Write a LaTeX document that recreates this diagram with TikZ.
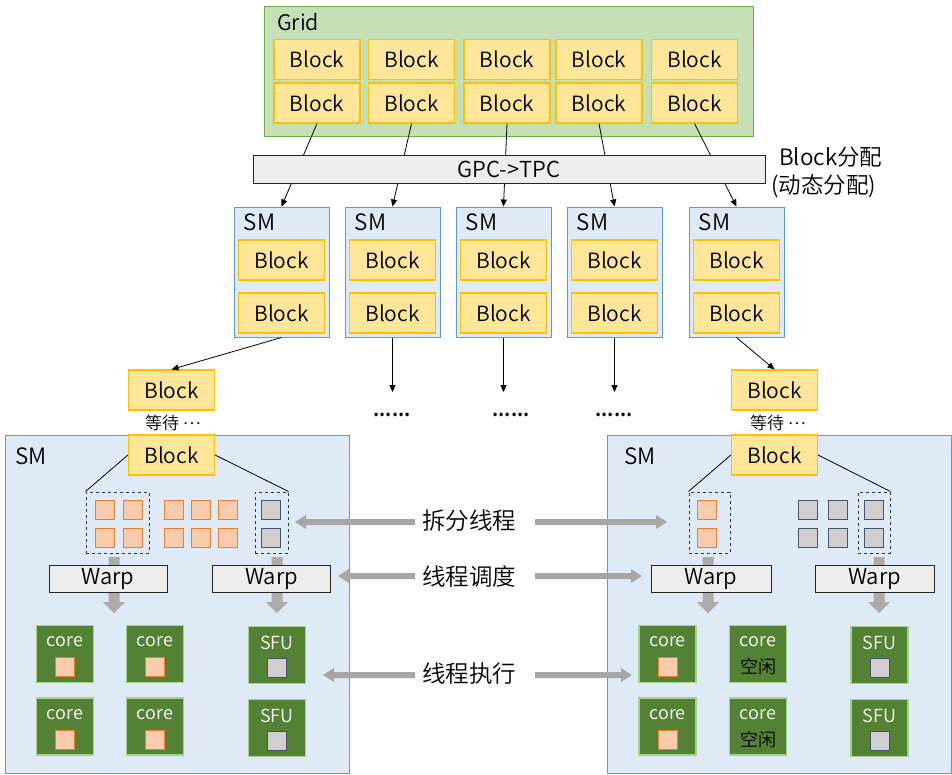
\documentclass[tikz,border=0pt]{standalone}
\usepackage{fontspec}
\setmainfont{Noto Sans CJK SC}[UprightFont={* DemiLight}]
\usetikzlibrary{arrows.meta}
\definecolor{blkfill}{HTML}{FFE699}
\definecolor{blkdraw}{HTML}{FFC000}
\definecolor{gridfill}{HTML}{C5E0B4}
\definecolor{griddraw}{HTML}{70AD47}
\definecolor{smfill}{HTML}{DEEBF7}
\definecolor{smdraw}{HTML}{5B9BD5}
\definecolor{barfill}{HTML}{EDEDED}
\definecolor{orfill}{HTML}{F8CBAD}
\definecolor{ordraw}{HTML}{ED7D31}
\definecolor{gyfill}{HTML}{D0CECE}
\definecolor{gydraw}{HTML}{44546A}
\definecolor{corefill}{HTML}{548235}
\definecolor{coredraw}{HTML}{A9D18E}
\definecolor{dashc}{HTML}{203864}
\definecolor{harr}{HTML}{A6A6A6}
\definecolor{varr}{HTML}{AEAAAA}
\newcommand\myGDown[3]{% x, y1, ytip
  \fill[varr] ({#1-5.5},#2) -- ({#1+5.5},#2) -- ({#1+5.5},{#3-11}) -- ({#1+11},{#3-11}) -- (#1,#3) -- ({#1-11},{#3-11}) -- ({#1-5.5},{#3-11}) -- cycle;}
\newcommand\myGH[4]{% x1, xtip, y, sign (+1 right, -1 left)
  \fill[harr] (#1,{#3-3}) -- ({#2-11*#4},{#3-3}) -- ({#2-11*#4},{#3-7}) -- (#2,#3) -- ({#2-11*#4},{#3+7}) -- ({#2-11*#4},{#3+3}) -- (#1,{#3+3}) -- cycle;}
\tikzset{
  fs/.style={font=\fontsize{#1}{27}\selectfont},
  blk/.style={draw=blkdraw, fill=blkfill, line width=1.2pt, minimum width=86pt, minimum height=40pt, inner sep=0pt, fs=21},
  smbox/.style={draw=smdraw, fill=smfill, line width=1pt, inner sep=0pt},
  lbl/.style={inner sep=0pt, fs=#1},
  lbl/.default=20,
  barbox/.style={draw=black!85, fill=barfill, line width=1pt, inner sep=0pt, fs=22},
  orsq/.style={draw=ordraw, fill=orfill, line width=1pt, minimum size=19pt, inner sep=0pt},
  gysq/.style={draw=gydraw, fill=gyfill, line width=1pt, minimum size=19pt, inner sep=0pt},
  dbox/.style={draw=dashc, dashed, line width=1pt, inner sep=0pt},
  corebox/.style={draw=coredraw, fill=corefill, line width=1.2pt, minimum size=57pt, inner sep=0pt},
  conn/.style={draw=black, line width=0.8pt},
  conna/.style={conn, -{Triangle[length=7pt,width=6pt]}},
}
\begin{document}
\begin{tikzpicture}[x=1pt,y=-1pt]
\useasboundingbox (0,0) rectangle (952,774);
% Grid
\node[draw=griddraw, fill=gridfill, line width=1pt, minimum width=489pt, minimum height=130pt, inner sep=0pt] (grid) at (508.5,71) {};
\node[lbl=21.5, anchor=west] (gridlbl) at (277,22) {Grid};
\foreach \i/\x in {1/317,2/411.5,3/507,4/599,5/694.5}{
  \node[blk] (ga\i) at (\x,59.5) {Block};
  \node[blk] (gb\i) at (\x,103) {Block};
}
% SMs row
\foreach \i/\x in {1/281.5,2/392.5,3/503.5,4/614.5,5/736.5}{
  \node[smbox, minimum width=95pt, minimum height=130pt] (sm\i) at (\x,272) {};
  \node[lbl=22.5, anchor=west] (smlbl\i) at (\x-38,222) {SM};
  \node[blk] (sa\i) at (\x,260) {Block};
  \node[blk] (sb\i) at (\x,313) {Block};
}
\foreach \i in {1,...,5}{ \draw[conna] (gb\i.south) -- (sm\i.north); }
% bar
\node[barbox, minimum width=512pt, minimum height=28pt] (bar) at (509,169) {GPC->TPC};
\node[lbl=22.5, anchor=base west] (alloc1) at (779,165) {Block分配};
\node[lbl=22.5, anchor=base west] (alloc2) at (771,193) {(动态分配)};
% waiting blocks
\node[blk] (wL) at (171.5,390) {Block};
\node[blk] (wR) at (774.5,390) {Block};
\draw[conna] (sm1.south) -- (wL.north);
\draw[conna] (sm5.south) -- (wR.north);
\node[lbl=17] (waitL) at (173,423) {等待 \raisebox{5pt}{…}};
\node[lbl=17] (waitR) at (778,423) {等待 \raisebox{5pt}{…}};
\coordinate (e2) at (392.5,392);
\coordinate (e3) at (503.5,392);
\coordinate (e4) at (614.5,392);
\foreach \i/\x in {2/392,3/511,4/614}{
  \draw[conna] (sm\i.south) -- (e\i);
  \node[inner sep=0pt, font=\fontsize{19}{20}\selectfont\bfseries] (dots\i) at (\x,415) {......};
}
% bottom SMs
\node[smbox, minimum width=344pt, minimum height=338pt] (bigL) at (177,604) {};
\node[smbox, minimum width=344pt, minimum height=338pt] (bigR) at (779,604) {};
\node[lbl=22.5, anchor=west] (bigLl) at (15,456) {SM};
\node[lbl=22.5, anchor=west] (bigRl) at (624,456) {SM};
\node[blk] (bL) at (171.5,455) {Block};
\node[blk] (bR) at (774.5,455) {Block};
% left SM threads
\node[dbox, minimum width=63pt, minimum height=61pt] (dL1) at (117.5,522.5) {};
\node[dbox, minimum width=33pt, minimum height=61pt] (dL2) at (271.5,522.5) {};
\draw[conn] (bL.west) -- (dL1.north west);
\draw[conn] (bL.east) -- (dL2.north east);
\foreach \x in {104.5,133,174,201,228}{
  \foreach \y in {510,538}{ \node[orsq] at (\x,\y) {}; }
}
\foreach \y in {510,538}{ \node[gysq] at (271,\y) {}; }
% right SM threads
\node[dbox, minimum width=41pt, minimum height=61pt] (dR1) at (709.5,522.5) {};
\node[dbox, minimum width=32pt, minimum height=61pt] (dR2) at (874,522.5) {};
\draw[conn] (bR.west) -- (dR1.north west);
\draw[conn] (bR.east) -- (dR2.north east);
\foreach \y in {510,538}{
  \node[orsq] at (707,\y) {};
  \node[gysq] at (808,\y) {};
  \node[gysq] at (838,\y) {};
  \node[gysq] at (874,\y) {};
}
% down arrows
\myGDown{114}{557}{613}
\myGDown{277}{557}{613}
\myGDown{708}{557}{613}
\myGDown{879}{557}{613}
% warps
\node[barbox, minimum width=118pt, minimum height=27pt] (wpL1) at (108,579) {Warp};
\node[barbox, minimum width=118pt, minimum height=27pt] (wpL2) at (271.5,579) {Warp};
\node[barbox, minimum width=120pt, minimum height=27pt] (wpR1) at (711,579) {Warp};
\node[barbox, minimum width=119pt, minimum height=27pt] (wpR2) at (874.5,579) {Warp};
% cores
\foreach \n/\x/\y in {cL1/65/654, cL2/155/654, cL3/65/726.5, cL4/155/726.5, cR1/667.5/654, cR3/667.5/726.5}{
  \node[corebox] (\n) at (\x,\y) {};
  \node[lbl=18, text=white] at (\x,\y-12) {core};
  \node[orsq] at (\x,\y+13) {};
}
\foreach \n/\x/\y in {sL1/277/655, sL2/277/728, sR1/879.5/655, sR2/879.5/728}{
  \node[corebox] (\n) at (\x,\y) {};
  \node[lbl=18, text=white] at (\x,\y-12) {SFU};
  \node[gysq] at (\x,\y+12.5) {};
}
\foreach \n/\x/\y in {cR2/758/654, cR4/758/726.5}{
  \node[corebox] (\n) at (\x,\y) {};
  \node[lbl=18, text=white] at (\x,\y-12) {core};
  \node[lbl=18] at (\x,\y+13) {空闲};
}
% middle labels
\node[lbl=23.5] (t1) at (469,521) {拆分线程};
\node[lbl=23.5] (t2) at (469,576) {线程调度};
\node[lbl=23.5] (t3) at (469,674) {线程执行};
\myGH{415}{295}{522}{-1}
\myGH{535}{667}{522}{1}
\myGH{415}{338}{576}{-1}
\myGH{535}{642}{576}{1}
\myGH{415}{323}{675}{-1}
\myGH{535}{632}{675}{1}
\end{tikzpicture}
\end{document}
